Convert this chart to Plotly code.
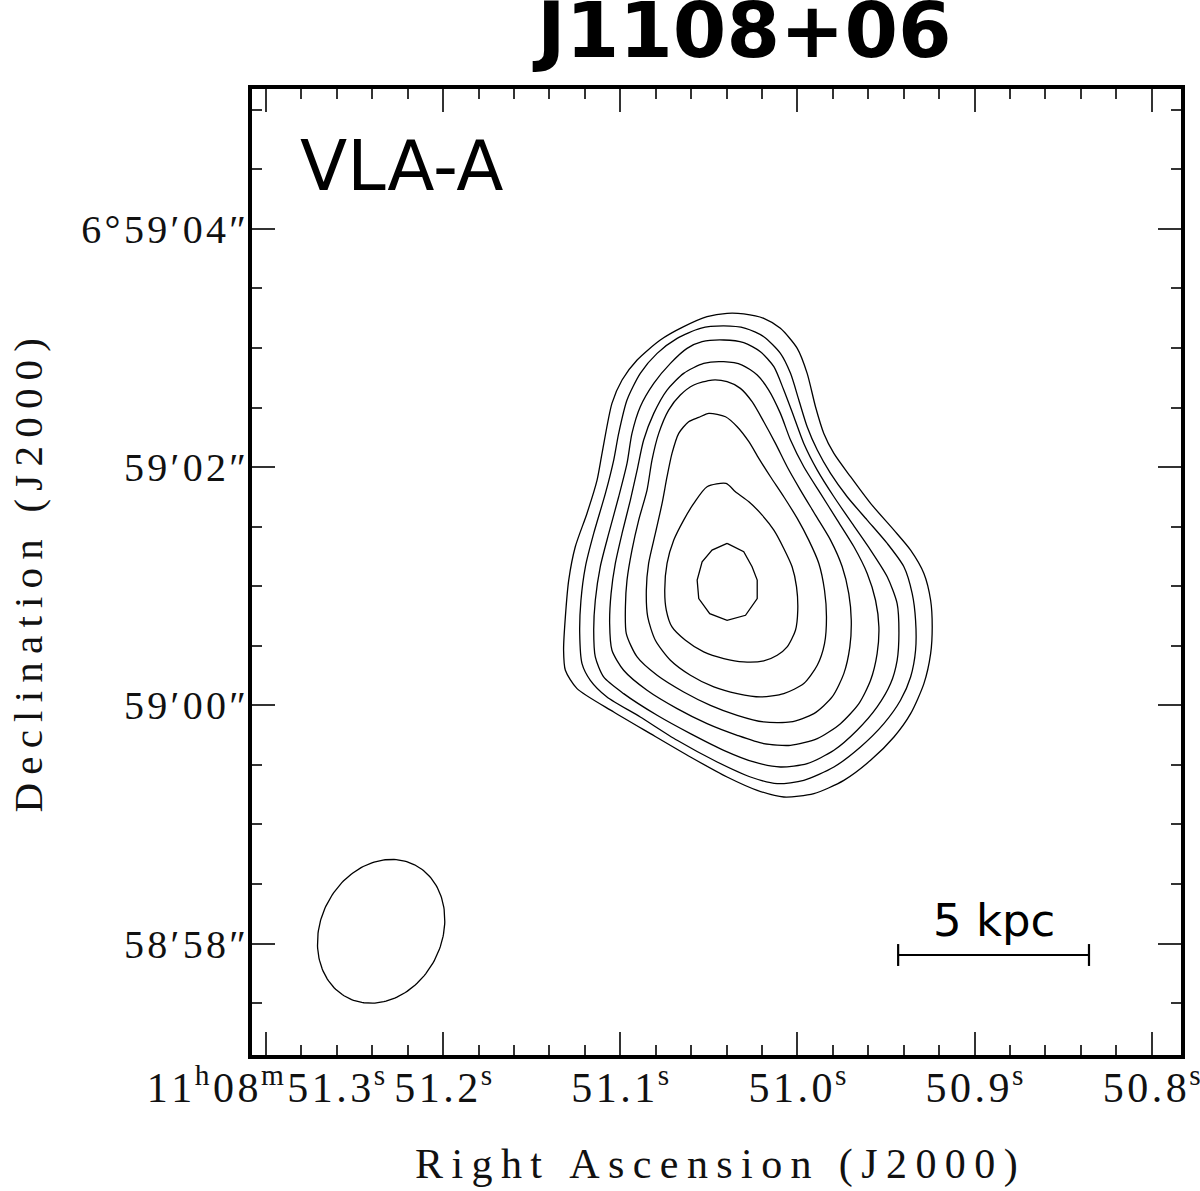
import re
import numpy as np
import plotly.graph_objects as go

# ---------------- data (RA in seconds of 11h08m, Dec offset in arcsec from +6d59m00s) ----
C1_RA = [51.0397, 51.0303, 51.0190, 51.0096, 51.0001, 50.9945, 50.9898, 50.9851, 50.9794, 50.9700,
         50.9587, 50.9455, 50.9361, 50.9286, 50.9248, 50.9239, 50.9248, 50.9286, 50.9361, 50.9455,
         50.9587, 50.9738, 50.9907, 51.0077, 51.0227, 51.0397, 51.0604, 51.0830, 51.1037, 51.1244,
         51.1310, 51.1320, 51.1310, 51.1291, 51.1254, 51.1188, 51.1131, 51.1103, 51.1047, 51.0990,
         51.0905, 51.0774, 51.0642, 51.0510]
C1_DEC = [3.291, 3.286, 3.249, 3.165, 2.997, 2.787, 2.507, 2.283, 2.115, 1.919,
          1.695, 1.471, 1.303, 1.107, 0.882, 0.658, 0.434, 0.182, -0.070, -0.266,
          -0.462, -0.630, -0.742, -0.770, -0.714, -0.602, -0.434, -0.238, -0.056, 0.140,
          0.294, 0.462, 0.742, 1.051, 1.331, 1.611, 1.891, 2.115, 2.535, 2.731,
          2.899, 3.067, 3.179, 3.263]

C2_RA = [51.0548, 51.0416, 51.0293, 51.0190, 51.0096, 51.0039, 50.9992, 50.9945, 50.9888, 50.9813,
         50.9719, 50.9606, 50.9493, 50.9399, 50.9352, 50.9333, 50.9333, 50.9361, 50.9418, 50.9512,
         50.9644, 50.9794, 50.9964, 51.0114, 51.0265, 51.0453, 51.0679, 51.0887, 51.1075, 51.1169,
         51.1216, 51.1229, 51.1222, 51.1197, 51.1150, 51.1084, 51.1037, 51.1009, 51.0962, 51.0887,
         51.0792, 51.0679]
C2_DEC = [3.165, 3.185, 3.165, 3.095, 2.955, 2.787, 2.563, 2.339, 2.143, 1.947,
          1.751, 1.555, 1.359, 1.163, 0.938, 0.714, 0.462, 0.238, 0.042, -0.154,
          -0.350, -0.518, -0.630, -0.658, -0.602, -0.476, -0.294, -0.098, 0.070, 0.210,
          0.350, 0.602, 0.882, 1.163, 1.443, 1.779, 2.059, 2.283, 2.563, 2.787,
          2.955, 3.081]

C3_RA = [51.0538, 51.0416, 51.0303, 51.0209, 51.0133, 51.0077, 51.0020, 50.9964, 50.9888, 50.9794,
         50.9691, 50.9587, 50.9493, 50.9437, 50.9427, 50.9437, 50.9474, 50.9550, 50.9663, 50.9794,
         50.9945, 51.0096, 51.0246, 51.0416, 51.0604, 51.0792, 51.0981, 51.1094, 51.1141, 51.1150,
         51.1141, 51.1113, 51.1065, 51.1009, 51.0962, 51.0934, 51.0887, 51.0811, 51.0717, 51.0623]
C3_DEC = [3.053, 3.067, 3.045, 2.969, 2.843, 2.647, 2.423, 2.199, 1.975, 1.751,
          1.527, 1.303, 1.079, 0.854, 0.602, 0.378, 0.182, -0.014, -0.210, -0.378,
          -0.490, -0.518, -0.476, -0.378, -0.238, -0.084, 0.098, 0.238, 0.406, 0.630,
          0.882, 1.163, 1.443, 1.751, 2.031, 2.283, 2.507, 2.703, 2.871, 2.997]

C4_RA = [51.0529, 51.0416, 51.0312, 51.0227, 51.0162, 51.0096, 51.0039, 50.9964, 50.9870, 50.9775,
         50.9681, 50.9606, 50.9559, 50.9540, 50.9550, 50.9587, 50.9653, 50.9757, 50.9888, 51.0039,
         51.0190, 51.0340, 51.0510, 51.0679, 51.0849, 51.0981, 51.1047, 51.1060, 51.1052, 51.1028,
         51.0990, 51.0943, 51.0905, 51.0868, 51.0811, 51.0736, 51.0642]
C4_DEC = [2.871, 2.885, 2.857, 2.773, 2.647, 2.451, 2.227, 2.003, 1.779, 1.555,
          1.331, 1.107, 0.882, 0.658, 0.434, 0.210, 0.014, -0.154, -0.280, -0.336,
          -0.322, -0.252, -0.154, -0.028, 0.126, 0.294, 0.462, 0.686, 0.938, 1.191,
          1.443, 1.723, 1.975, 2.227, 2.451, 2.647, 2.787]

C5_RA = [51.0585, 51.0482, 51.0397, 51.0322, 51.0256, 51.0190, 51.0124, 51.0058, 50.9983, 50.9898,
         50.9813, 50.9747, 50.9710, 50.9696, 50.9704, 50.9738, 50.9804, 50.9907, 51.0039, 51.0190,
         51.0340, 51.0491, 51.0642, 51.0792, 51.0905, 51.0966, 51.0971, 51.0962, 51.0934, 51.0896,
         51.0849, 51.0821, 51.0783, 51.0727, 51.0661]
C5_DEC = [2.689, 2.731, 2.717, 2.661, 2.549, 2.381, 2.199, 2.003, 1.807, 1.597,
          1.387, 1.163, 0.938, 0.714, 0.490, 0.266, 0.070, -0.070, -0.140, -0.140,
          -0.084, 0.000, 0.112, 0.252, 0.406, 0.602, 0.826, 1.051, 1.303, 1.555,
          1.807, 2.059, 2.283, 2.479, 2.605]

C6_RA = [51.0557, 51.0500, 51.0406, 51.0340, 51.0274, 51.0218, 51.0152, 51.0077, 51.0001, 50.9936,
         50.9879, 50.9847, 50.9836, 50.9847, 50.9888, 50.9964, 51.0077, 51.0209, 51.0340, 51.0472,
         51.0604, 51.0717, 51.0802, 51.0845, 51.0853, 51.0840, 51.0802, 51.0764, 51.0736, 51.0708,
         51.0670, 51.0614]
C6_DEC = [2.417, 2.451, 2.423, 2.339, 2.213, 2.073, 1.919, 1.751, 1.569, 1.387,
          1.191, 0.966, 0.742, 0.518, 0.336, 0.182, 0.098, 0.070, 0.098, 0.154,
          0.252, 0.378, 0.546, 0.742, 0.966, 1.191, 1.443, 1.695, 1.919, 2.115,
          2.283, 2.381]

C7_RA = [51.0585, 51.0510, 51.0403, 51.0350, 51.0274, 51.0199, 51.0133, 51.0077, 51.0030, 51.0005,
         50.9998, 51.0011, 51.0058, 51.0114, 51.0190, 51.0303, 51.0416, 51.0529, 51.0632, 51.0708,
         51.0740, 51.0749, 51.0736, 51.0698, 51.0642]
C7_DEC = [1.695, 1.835, 1.863, 1.793, 1.709, 1.597, 1.471, 1.317, 1.163, 0.995,
          0.798, 0.630, 0.490, 0.420, 0.373, 0.364, 0.392, 0.448, 0.546, 0.658,
          0.798, 0.966, 1.191, 1.387, 1.555]

C8_RA = [51.0397, 51.0303, 51.0256, 51.0227, 51.0227, 51.0293, 51.0397, 51.0495, 51.0557, 51.0566,
         51.0538, 51.0482]
C8_DEC = [1.359, 1.289, 1.163, 1.051, 0.896, 0.756, 0.714, 0.770, 0.896, 1.051,
          1.205, 1.303]

CONTOURS = [(C1_RA, C1_DEC), (C2_RA, C2_DEC), (C3_RA, C3_DEC), (C4_RA, C4_DEC),
            (C5_RA, C5_DEC), (C6_RA, C6_DEC), (C7_RA, C7_DEC), (C8_RA, C8_DEC)]

# restoring beam (arcsec, deg) and scale bar
BEAM_MAJ = 1.25
BEAM_MIN = 1.02
BEAM_PA = -26.7
SCALE_KPC = 5
SCALE_ARCSEC = 1.604

RA_TICKS = [51.3, 51.2, 51.1, 51.0, 50.9, 50.8]
RA_LABELS = ["11<sup>h</sup>08<sup>m</sup>51.3<sup>s</sup>", "51.2<sup>s</sup>", "51.1<sup>s</sup>",
             "51.0<sup>s</sup>", "50.9<sup>s</sup>", "50.8<sup>s</sup>"]
DEC_TICKS = [-2, 0, 2, 4]
DEC_LABELS = ["58\u203258\u2033", "59\u203200\u2033", "59\u203202\u2033", "6\u00b059\u203204\u2033"]

DEC0_DEG = 6.0 + 59.0 / 60.0
S_PER_ARCSEC = 1.0 / (15.0 * np.cos(np.radians(DEC0_DEG)))

X_RANGE = [51.30790, 50.78346]
Y_RANGE = [-2.9362, 5.1746]


def spaced(s, sp):
    """insert a small space between visible characters (keeps html tags intact)"""
    out, prev = "", False
    for tok in re.findall(r"<[^>]+>|.", s):
        if tok.startswith("<"):
            out += tok
        else:
            out += (sp if prev else "") + tok
            prev = True
    return out


fig = go.Figure()

for i, (ra, dec) in enumerate(CONTOURS):
    ra_c = list(ra) + [ra[0]]
    dec_c = list(dec) + [dec[0]]
    inner = i == len(CONTOURS) - 1
    fig.add_trace(go.Scatter(
        x=ra_c, y=dec_c, mode="lines",
        line=dict(color="black", width=1.3,
                  shape="linear" if inner else "spline",
                  smoothing=0.7),
        hoverinfo="skip", showlegend=False))

# beam ellipse (position in bottom-left corner)
beam_ra0, beam_dec0 = 51.2350, -1.8976
t = np.linspace(0, 2 * np.pi, 181)
a, b = BEAM_MAJ / 2, BEAM_MIN / 2
pa = np.radians(BEAM_PA)
u, v = a * np.cos(t), b * np.sin(t)
east = u * np.sin(pa) + v * np.cos(pa)
north = u * np.cos(pa) - v * np.sin(pa)
fig.add_trace(go.Scatter(x=beam_ra0 + east * S_PER_ARCSEC, y=beam_dec0 + north,
                         mode="lines", line=dict(color="black", width=1.3),
                         hoverinfo="skip", showlegend=False))

# scale bar
bar_right, bar_dec = 50.8354, -2.0966
bar_left = bar_right + SCALE_ARCSEC * S_PER_ARCSEC
cap = 0.092
for x0, y0, x1, y1 in [(bar_left, bar_dec, bar_right, bar_dec),
                       (bar_left, bar_dec - cap, bar_left, bar_dec + cap),
                       (bar_right, bar_dec - cap, bar_right, bar_dec + cap)]:
    fig.add_shape(type="line", x0=x0, y0=y0, x1=x1, y1=y1, xref="x", yref="y",
                  line=dict(color="black", width=2.2))
fig.add_annotation(x=(bar_left + bar_right) / 2, y=bar_dec + 0.29, xref="x", yref="y",
                   text=f"{SCALE_KPC} kpc", showarrow=False,
                   font=dict(family="DejaVu Sans", size=45, color="black"),
                   xanchor="center", yanchor="middle")

# texts
fig.add_annotation(x=0.527, y=1.061, xref="paper", yref="paper", text="<b>J1108+06</b>",
                   showarrow=False, font=dict(family="DejaVu Sans", size=77, color="black"),
                   xanchor="center", yanchor="middle")
fig.add_annotation(x=0.050, y=0.9206, xref="paper", yref="paper", text="VLA-A",
                   showarrow=False, font=dict(family="DejaVu Sans", size=69, color="black"),
                   xanchor="left", yanchor="middle")

xtitle = spaced("Right Ascension (J2000)", "\u2009")
ytitle = spaced("Declination (J2000)", "\u2009")
fig.add_annotation(x=0.5, y=-0.1136, xref="paper", yref="paper", text=xtitle,
                   showarrow=False, font=dict(family="Liberation Serif", size=42, color="#111"),
                   xanchor="center", yanchor="middle")
fig.add_annotation(x=-0.2415, y=0.497, xref="paper", yref="paper", text=ytitle, textangle=-90,
                   showarrow=False, font=dict(family="Liberation Serif", size=41, color="#111"),
                   xanchor="center", yanchor="middle")

common = dict(showgrid=False, zeroline=False, ticks="inside", ticklen=23, tickwidth=1.5,
              tickcolor="#333", showline=True, linewidth=4, linecolor="black", mirror="ticks",
              automargin=False, ticklabeloverflow="allow")

fig.update_xaxes(range=X_RANGE, tickmode="array", tickvals=RA_TICKS,
                 ticktext=[spaced(s, "\u200a") for s in RA_LABELS],
                 tickfont=dict(family="Liberation Serif", size=42, color="#111"),
                 minor=dict(tickmode="linear", tick0=50.8, dtick=0.02, ticks="inside",
                            ticklen=10, tickwidth=1.5, tickcolor="#333"),
                 ticklabelstandoff=-7, **common)
fig.update_yaxes(range=Y_RANGE, tickmode="array", tickvals=DEC_TICKS,
                 ticktext=[spaced(s, "\u200a") for s in DEC_LABELS],
                 tickfont=dict(family="Liberation Serif", size=40, color="#111"),
                 minor=dict(tickmode="linear", tick0=0, dtick=0.5, ticks="inside",
                            ticklen=10, tickwidth=1.5, tickcolor="#333"),
                 ticklabelstandoff=-6, **common)

fig.update_layout(width=1200, height=1191, margin=dict(l=252, r=19, t=89, b=136, autoexpand=False),
                  paper_bgcolor="white", plot_bgcolor="white", showlegend=False)

# remove the browser's default 8px page margin so the figure sits at the page origin
fig.write_html("out.html", config={"displayModeBar": False},
               post_script="document.body.style.margin='0px';")
